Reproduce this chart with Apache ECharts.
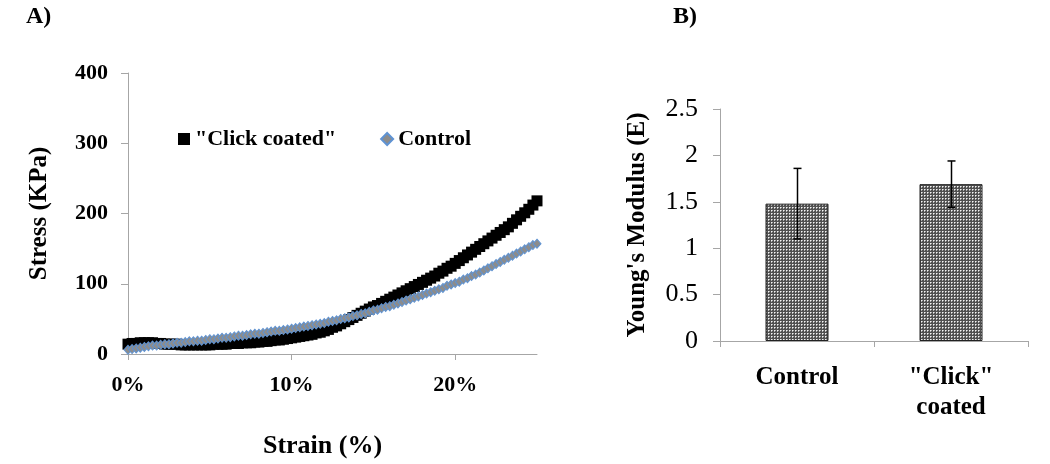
<!DOCTYPE html>
<html>
<head>
<meta charset="utf-8">
<script src="https://cdn.jsdelivr.net/npm/echarts@6/dist/echarts.min.js"></script>
<style>html,body{margin:0;padding:0;background:#fff}#c{width:1050px;height:464px}</style>
</head>
<body>
<div id="c"></div>
<script>
// ---------- Panel A data ----------
const strain = [0,0.25,0.5,0.75,1,1.25,1.5,1.75,2,2.25,2.5,2.75,3,3.25,3.5,3.75,4,4.25,4.5,4.75,5,5.25,5.5,5.75,6,6.25,6.5,6.75,7,7.25,7.5,7.75,8,8.25,8.5,8.75,9,9.25,9.5,9.75,10,10.25,10.5,10.75,11,11.25,11.5,11.75,12,12.25,12.5,12.75,13,13.25,13.5,13.75,14,14.25,14.5,14.75,15,15.25,15.5,15.75,16,16.25,16.5,16.75,17,17.25,17.5,17.75,18,18.25,18.5,18.75,19,19.25,19.5,19.75,20,20.25,20.5,20.75,21,21.25,21.5,21.75,22,22.25,22.5,22.75,23,23.25,23.5,23.75,24,24.25,24.5,24.75,25];
const clickCoated = [14,15,15,16,16,16,16,15,15,14,14,14,14,13,13,13,13,13,13,13,13,14,14,14,14,15,15,15,16,16,16,17,17,18,18,19,20,20,21,22,23,24,25,26,27,28,30,31,33,35,38,40,43,46,49,52,55,58,61,64,67,69,72,75,78,81,84,87,90,93,96,99,102,105,108,111,115,118,122,125,129,133,137,141,145,149,153,157,161,165,169,173,177,181,186,191,196,201,206,212,218];
const control = [6,7,8,9,10,11,12,12,13,14,14,15,16,16,17,18,18,19,19,20,21,21,22,23,23,24,25,26,26,27,28,29,29,30,31,32,33,33,34,35,36,37,38,39,40,41,42,43,44,46,47,48,50,51,52,54,55,57,58,60,62,63,65,67,68,70,72,74,76,78,80,82,84,86,88,90,92,94,97,99,101,103,106,108,111,113,116,119,122,125,128,131,134,137,140,143,146,149,152,155,157];
const stressTicks = [0,100,200,300,400];
const strainTicks = [0,10,20];

// ---------- Panel B data ----------
const groups = ['Control', '"Click"\ncoated'];
const modulus = [1.48, 1.69];
const modulusErr = [0.38, 0.25];
const modulusTicks = [0,0.5,1,1.5,2,2.5];

const FONT = '"Liberation Serif","Times New Roman",serif';

// fine dotted pattern for bars
const pc = document.createElement('canvas');
pc.width = 3; pc.height = 3;
const pctx = pc.getContext('2d');
pctx.fillStyle = '#505050'; pctx.fillRect(0,0,3,3);
pctx.fillStyle = '#f4f4f4'; pctx.fillRect(0,0,1,1);
pctx.fillStyle = '#b0b0b0'; pctx.fillRect(1,0,1,1); pctx.fillRect(0,1,1,1);

const chart = echarts.init(document.getElementById('c'), null, {renderer:'canvas'});
const axisGray = '#a6a6a6';

const option = {
  backgroundColor: '#fff',
  animation: false,
  textStyle: {fontFamily: FONT},
  title: [
    {text: 'A)', left: 21, top: 0, textStyle: {fontFamily: FONT, fontSize: 24, fontWeight: 'bold', color: '#000'}},
    {text: 'B)', left: 668, top: 0, textStyle: {fontFamily: FONT, fontSize: 24, fontWeight: 'bold', color: '#000'}}
  ],
  legend: {
    left: 173, top: 123,
    itemWidth: 12, itemHeight: 12, itemGap: 44,
    textStyle: {fontFamily: FONT, fontSize: 22, fontWeight: 'bold', color: '#000'},
    data: [
      {name: '"Click coated"', icon: 'rect'},
      {name: 'Control', icon: 'diamond'}
    ]
  },
  grid: [
    {left: 128, top: 73, width: 409, height: 286},
    {left: 720, top: 109, width: 308, height: 232}
  ],
  xAxis: [
    {
      gridIndex: 0, type: 'value', min: 0, max: 25,
      name: 'Strain (%)', nameLocation: 'middle', nameGap: 79,
      nameTextStyle: {fontFamily: FONT, fontSize: 26, fontWeight: 'bold', color: '#000', padding: [0, 20, 0, 0]},
      splitLine: {show: false},
      axisLine: {lineStyle: {color: axisGray, width: 1}},
      axisTick: {show: true, length: 6, lineStyle: {color: axisGray}, customValues: strainTicks},
      axisLabel: {customValues: strainTicks, formatter: v => v + '%', margin: 20,
        fontFamily: FONT, fontSize: 22, fontWeight: 'bold', color: '#000'}
    },
    {
      gridIndex: 1, type: 'category', data: groups,
      axisLine: {lineStyle: {color: axisGray, width: 1}},
      axisTick: {show: true, length: 6, lineStyle: {color: axisGray}},
      axisLabel: {margin: 22, lineHeight: 30, fontFamily: FONT, fontSize: 25, fontWeight: 'bold', color: '#000'}
    }
  ],
  yAxis: [
    {
      gridIndex: 0, type: 'value', min: 0, max: 400, interval: 100,
      name: 'Stress (KPa)', nameLocation: 'middle', nameGap: 76,
      nameTextStyle: {fontFamily: FONT, fontSize: 25, fontWeight: 'bold', color: '#000'},
      splitLine: {show: false},
      axisLine: {show: true, lineStyle: {color: axisGray, width: 1}},
      axisTick: {show: true, length: 7, lineStyle: {color: axisGray}},
      axisLabel: {margin: 20, fontFamily: FONT, fontSize: 22, fontWeight: 'bold', color: '#000'}
    },
    {
      gridIndex: 1, type: 'value', min: 0, max: 2.5, interval: 0.5,
      name: "Young's Modulus (E)", nameLocation: 'middle', nameGap: 70,
      nameTextStyle: {fontFamily: FONT, fontSize: 25, fontWeight: 'bold', color: '#000'},
      splitLine: {show: false},
      axisLine: {show: true, lineStyle: {color: axisGray, width: 1}},
      axisTick: {show: true, length: 7, lineStyle: {color: axisGray}},
      axisLabel: {margin: 22, fontFamily: FONT, fontSize: 26, color: '#000'}
    }
  ],
  series: [
    {
      name: '"Click coated"', type: 'scatter', xAxisIndex: 0, yAxisIndex: 0,
      data: strain.map((s, i) => [s, clickCoated[i]]),
      symbol: 'rect', symbolSize: 11,
      itemStyle: {color: '#000', opacity: 1}
    },
    {
      name: 'Control', type: 'scatter', xAxisIndex: 0, yAxisIndex: 0,
      data: strain.map((s, i) => [s, control[i]]),
      symbol: 'diamond', symbolSize: [8, 9],
      itemStyle: {color: '#8c8c8c', borderColor: '#5f93d3', borderWidth: 1, opacity: 1}
    },
    {
      name: 'modulus', type: 'bar', xAxisIndex: 1, yAxisIndex: 1,
      data: modulus, barWidth: 63,
      itemStyle: {color: {image: pc, repeat: 'repeat'}, borderColor: '#222', borderWidth: 1}
    },
    {
      name: 'err', type: 'custom', xAxisIndex: 1, yAxisIndex: 1,
      data: modulus.map((m, i) => [i, m - modulusErr[i], m + modulusErr[i]]),
      renderItem: function (params, api) {
        const lo = api.coord([api.value(0), api.value(1)]);
        const hi = api.coord([api.value(0), api.value(2)]);
        const x = Math.round(lo[0]) + 0.5, w = 4;
        const st = {stroke: '#000', lineWidth: 1.5};
        return {type: 'group', children: [
          {type: 'line', shape: {x1: x, y1: hi[1], x2: x, y2: lo[1]}, style: st},
          {type: 'line', shape: {x1: x - w, y1: hi[1], x2: x + w, y2: hi[1]}, style: st},
          {type: 'line', shape: {x1: x - w, y1: lo[1], x2: x + w, y2: lo[1]}, style: st}
        ]};
      },
      z: 5
    }
  ]
};
chart.setOption(option);
</script>
</body>
</html>
